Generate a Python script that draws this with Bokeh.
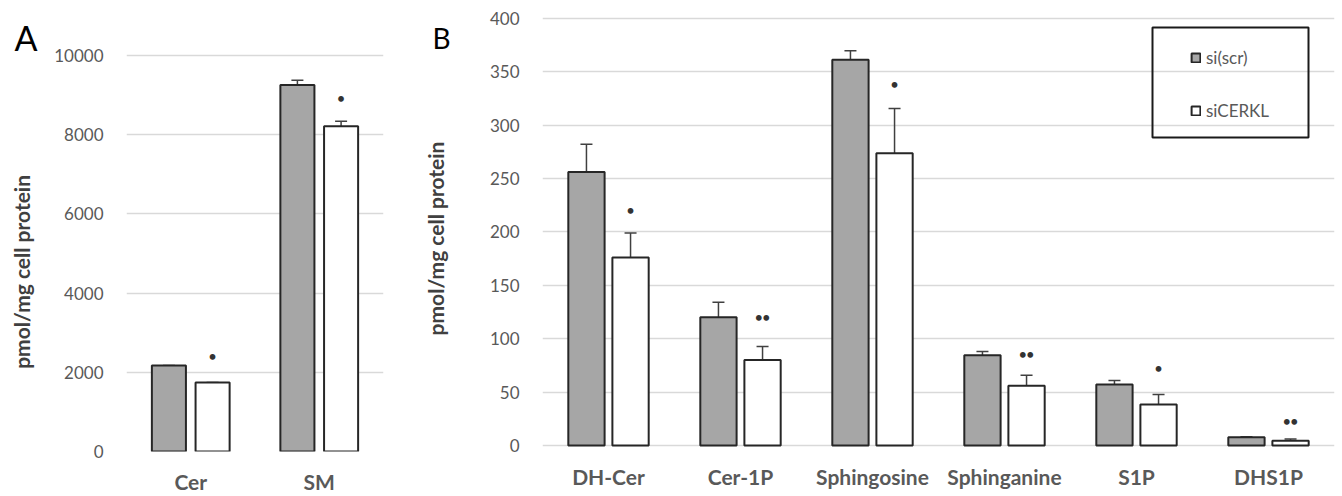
import math
from bokeh.plotting import figure
from bokeh.layouts import row
from bokeh.models import (ColumnDataSource, FactorRange, Range1d, Whisker, TeeHead,
                          SingleIntervalTicker, Legend, LegendItem, BoxAnnotation)
from bokeh.transform import dodge
from bokeh.core.properties import value
from bokeh.embed import file_html
from bokeh.resources import INLINE

# ---------------- data ----------------
cats_a = ["Cer", "SM"]
scr_a = [2170, 9250]
scr_a_err = [0, 120]
cerkl_a = [1740, 8210]
cerkl_a_err = [0, 130]
sig_a = ["•", "•"]
sig_a_y = [2420, 8920]

cats_b = ["DH-Cer", "Cer-1P", "Sphingosine", "Sphinganine", "S1P", "DHS1P"]
scr_b = [256, 120, 361, 84.5, 57, 7.8]
scr_b_err = [26, 14, 8.5, 3.5, 3.8, 0.5]
cerkl_b = [176, 80, 273.5, 56, 38.3, 4.4]
cerkl_b_err = [23, 12.7, 42, 9.7, 9.4, 1.6]
sig_b = ["•", "••", "•", "••", "•", "••"]
sig_b_y = [220, 120.6, 338, 85.5, 72.7, 23]

series_names = ["si(scr)", "siCERKL"]
y_title = "pmol/mg cell protein"
panel_names = ["A", "B"]

FONT = "Lato"
GRAY_FILL = "#a6a6a6"
EDGE = "#262626"
TXT = "#595959"
H = 496
TOP, BOTTOM = 12, 44          # common frame: page y 12 .. 452


def make_panel(cats, scr, scr_err, cerkl, cerkl_err, sig, sig_y, width,
               border_left, border_right, y_start, y_end, tick_int,
               bar_w, off, xlab_standoff):
    src = ColumnDataSource(dict(
        cat=cats, scr=scr, cerkl=cerkl,
        scr_up=[v + e for v, e in zip(scr, scr_err)],
        cerkl_up=[v + e for v, e in zip(cerkl, cerkl_err)],
        sig=sig, sig_y=sig_y,
    ))
    xr = FactorRange(*cats, range_padding=0)
    p = figure(x_range=xr, y_range=Range1d(y_start, y_end), width=width, height=H,
               output_backend="svg", toolbar_location=None, title=None,
               min_border_left=border_left, min_border_right=border_right,
               min_border_top=TOP, min_border_bottom=BOTTOM)
    p.outline_line_color = None
    p.background_fill_color = "white"
    p.border_fill_color = "white"

    r1 = p.vbar(x=dodge("cat", -off, range=xr), top="scr", bottom=0, width=bar_w,
                source=src, fill_color=GRAY_FILL, line_color=EDGE, line_width=2)
    r2 = p.vbar(x=dodge("cat", off, range=xr), top="cerkl", bottom=0, width=bar_w,
                source=src, fill_color="white", line_color=EDGE, line_width=2)

    for key, up, o in (("scr", "scr_up", -off), ("cerkl", "cerkl_up", off)):
        w = Whisker(base=dodge("cat", o, range=xr), lower=key, upper=up, source=src,
                    line_color="#404040", line_width=1.5,
                    upper_head=TeeHead(size=12, line_color="#404040", line_width=1.5),
                    lower_head=None)
        p.add_layout(w)

    p.text(x=dodge("cat", off, range=xr), y="sig_y", text="sig", source=src,
           text_align="center", text_baseline="middle", text_color="#333333",
           text_font=value(FONT), text_font_size="13px", text_font_style="bold")

    p.xgrid.grid_line_color = None
    p.ygrid.grid_line_color = "#d9d9d9"
    p.ygrid.grid_line_width = 1.5
    p.yaxis.ticker = SingleIntervalTicker(interval=tick_int)
    for ax in (p.xaxis[0], p.yaxis[0]):
        ax.axis_line_color = None
        ax.major_tick_line_color = None
        ax.minor_tick_line_color = None
        ax.major_tick_out = 0
        ax.major_tick_in = 0
        ax.major_label_text_font = FONT
        ax.major_label_text_color = TXT
    p.yaxis.major_label_text_font_size = "17px"
    p.yaxis.major_label_standoff = 19
    p.xaxis.major_label_text_font_size = "21px"
    p.xaxis.major_label_text_font_style = "bold"
    p.xaxis.major_label_standoff = xlab_standoff
    return p, r1, r2


def make_strip(width, letter, letter_size, letter_x, letter_base, title_x, title_y):
    """Narrow figure (pixel-unit ranges) carrying the panel letter and y title."""
    frame_h = H - TOP - BOTTOM
    s = figure(width=width, height=H, x_range=Range1d(0, width),
               y_range=Range1d(0, frame_h), output_backend="svg",
               toolbar_location=None, title=None,
               x_axis_location=None, y_axis_location=None,
               min_border_left=0, min_border_right=0,
               min_border_top=TOP, min_border_bottom=BOTTOM)
    s.outline_line_color = None
    s.grid.visible = False
    s.background_fill_color = "white"
    s.border_fill_color = "white"
    s.text(x=[letter_x], y=[letter_base], text=[letter], text_font=value(FONT),
           text_font_size=letter_size, text_color="black", text_align="left",
           text_baseline="alphabetic")
    s.text(x=[title_x], y=[title_y], text=[y_title], angle=math.pi / 2,
           text_font=value(FONT), text_font_size="21px", text_font_style="bold",
           text_color="#404040", text_align="center", text_baseline="middle")
    return s


FRAME_BOTTOM = H - BOTTOM  # page y 452

# strip A: page x 0..50
sA = make_strip(50, panel_names[0], "34px", 14, FRAME_BOTTOM - 37.5, 21, FRAME_BOTTOM - 272)
# Panel A: page x 50..400, frame x 126..383, y(0)=452, y(10000)=55
pA, a1, a2 = make_panel(cats_a, scr_a, scr_a_err, cerkl_a, cerkl_a_err, sig_a, sig_a_y,
                        width=350, border_left=76, border_right=17,
                        y_start=0, y_end=11083, tick_int=2000,
                        bar_w=0.265, off=0.17, xlab_standoff=17)

# strip B: page x 400..480
sB = make_strip(80, panel_names[1], "28px", 32, FRAME_BOTTOM - 38, 35, FRAME_BOTTOM - 238.5)
# Panel B: page x 480..1342, frame x 542..1334, y(0)=446, y(400)=17.7
pB, b1, b2 = make_panel(cats_b, scr_b, scr_b_err, cerkl_b, cerkl_b_err, sig_b, sig_b_y,
                        width=862, border_left=62, border_right=8,
                        y_start=-5.6, y_end=405.3, tick_int=50,
                        bar_w=0.275, off=0.167, xlab_standoff=12)

pB.add_layout(BoxAnnotation(left=610, right=766, top=424, bottom=314,
                            left_units="screen", right_units="screen",
                            top_units="screen", bottom_units="screen",
                            fill_alpha=0, line_color="#1a1a1a", line_alpha=1.0,
                            line_width=2))
legend = Legend(items=[LegendItem(label=series_names[0], renderers=[b1]),
                       LegendItem(label=series_names[1], renderers=[b2])],
                location=(648, 330), orientation="vertical",
                glyph_width=11, glyph_height=11, label_height=20, label_standoff=5,
                spacing=32, padding=0, margin=0,
                border_line_color=None, background_fill_alpha=0,
                label_text_font=FONT, label_text_font_size="17px", label_text_color=TXT)
pB.add_layout(legend)

layout = row(sA, pA, sB, pB)
open("out.html", "w").write(file_html(layout, INLINE))
